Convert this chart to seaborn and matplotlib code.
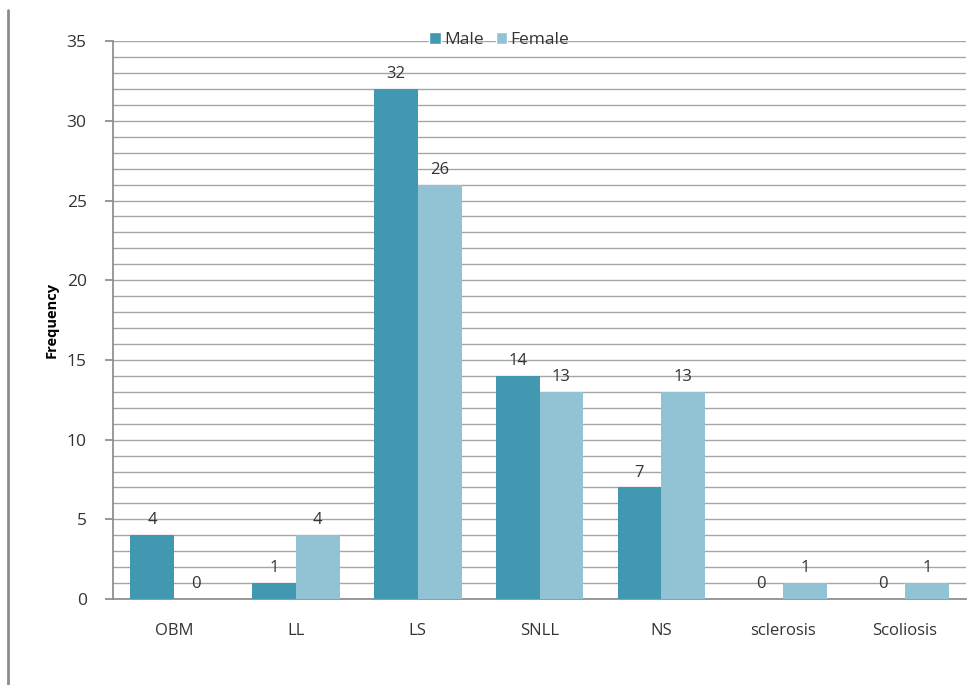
import matplotlib
matplotlib.use("Agg")
import matplotlib.pyplot as plt
import seaborn as sns
import pandas as pd
from matplotlib.ticker import MultipleLocator
from matplotlib.lines import Line2D
from matplotlib.patches import Patch

categories = ["OBM", "LL", "LS", "SNLL", "NS", "sclerosis", "Scoliosis"]
male = [4, 1, 32, 14, 7, 0, 0]
female = [0, 4, 26, 13, 13, 1, 1]
series = ["Male", "Female"]
colors = {"Male": "#4198B0", "Female": "#92C3D5"}

df = pd.DataFrame({
    "Category": categories * 2,
    "Sex": ["Male"] * len(categories) + ["Female"] * len(categories),
    "Frequency": male + female,
})

sns.set_theme(style="white")
plt.rcParams["font.family"] = ["Open Sans", "DejaVu Sans"]

fig = plt.figure(figsize=(9.76, 6.85), dpi=100)
ax = fig.add_axes([0.1158, 0.1255, 0.8740, 0.8145])

sns.barplot(data=df, x="Category", y="Frequency", hue="Sex", order=categories,
            hue_order=series, palette=colors, width=0.72, ax=ax, legend=False,
            saturation=1, edgecolor="none", zorder=3)

ax.set_ylim(0, 35)
ax.set_xlim(-0.5, len(categories) - 0.5)
ax.yaxis.set_major_locator(MultipleLocator(5))
ax.yaxis.set_minor_locator(MultipleLocator(1))
ax.grid(True, which="both", axis="y", color="#A6A6A6", linewidth=1, zorder=0)
ax.set_axisbelow(True)

for s in ["top", "right"]:
    ax.spines[s].set_visible(False)
ax.spines["left"].set_color("#8C8C8C")
ax.spines["bottom"].set_color("#8C8C8C")
ax.tick_params(axis="y", which="major", left=True, length=6, color="#8C8C8C",
               labelsize=12.5, labelcolor="#333333", pad=13)
ax.tick_params(axis="y", which="minor", left=False)
ax.tick_params(axis="x", bottom=False, labelsize=12, labelcolor="#333333", pad=11)

ax.set_xlabel("")
ax.set_ylabel("Frequency", fontsize=10.5, fontweight="bold", color="black", labelpad=6)

for cont in ax.containers:
    ax.bar_label(cont, labels=[f"{int(v)}" for v in cont.datavalues],
                 padding=5, fontsize=12, color="#333333")

handles = [Patch(facecolor=colors[s], label=s) for s in series]
leg = ax.legend(handles=handles, loc="center", bbox_to_anchor=(0.453, 1.002),
                ncol=2, frameon=False, fontsize=12.5, handlelength=0.65,
                handleheight=0.7, handletextpad=0.2, columnspacing=0.7,
                borderaxespad=0)
for t in leg.get_texts():
    t.set_color("#333333")

fig.add_artist(Line2D([8 / 976, 8 / 976], [0, 1 - 10 / 685], transform=fig.transFigure,
                      color="#8C8C8C", linewidth=2))

fig.savefig("out.png", dpi=100, facecolor="white")
